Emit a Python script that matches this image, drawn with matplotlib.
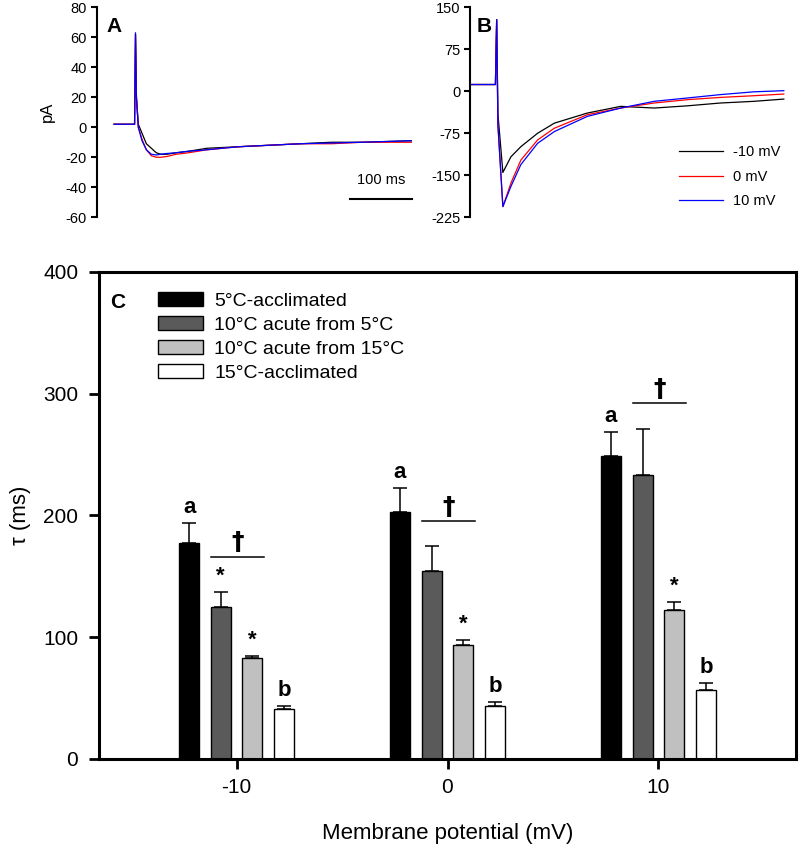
import matplotlib
matplotlib.use('Agg')
import matplotlib.pyplot as plt
import numpy as np

plt.rcParams['font.family'] = ['Liberation Sans', 'DejaVu Sans']
plt.rcParams['axes.unicode_minus'] = False

# panel A: current traces (time in ms from sweep start, current in pA)
tA = [0, 20, 33, 34.5, 36, 39, 45, 52, 60, 68, 75, 85, 100, 120, 150, 200, 250, 300, 350, 400, 479]
a_m10 = [2, 2, 2, 62, 20, 2, -4, -11, -14, -17, -18, -18, -17, -16, -14, -13, -12, -11, -10, -10, -9]
a_0 = [2, 2, 2, 62, 20, 0, -8, -15, -19, -20, -20, -19.5, -18, -17, -15, -13, -12, -11, -11, -10, -10]
a_10 = [2, 2, 2, 63, 20, 0, -9, -15, -18, -18.5, -18, -17.5, -17, -16, -15, -13, -12, -11, -10.5, -10, -9]

# panel B: current traces
tB = [0, 41, 43, 45, 53, 66, 82, 109, 136, 189, 243, 297, 351, 404, 458, 506]
b_m10 = [12, 12, 128, -40, -145, -117, -99, -75, -57, -39, -27, -30, -26, -21, -18, -14]
b_0 = [12, 12, 128, -60, -206, -164, -123, -87, -66, -42, -30, -21, -15, -11, -8, -5]
b_10 = [12, 12, 128, -60, -206, -170, -131, -93, -72, -45, -30, -18, -12, -6, -1, 1]

trace_labels = ['-10 mV', '0 mV', '10 mV']
trace_colors = ['black', 'red', 'blue']

# panel C: time constants
potentials = ['-10', '0', '10']
groups = ['5°C-acclimated', '10°C acute from 5°C', '10°C acute from 15°C', '15°C-acclimated']
acc5 = [177, 203, 249]
acc5_err = [16.6, 19.8, 19.8]
acute5 = [125, 154, 233]
acute5_err = [12.4, 20.8, 37.8]
acute15 = [82.5, 93.5, 122]
acute15_err = [2.2, 4.3, 7.2]
acc15 = [41, 43.5, 57]
acc15_err = [2.2, 3.5, 5.5]
sig_marks = [['a', 'a', 'a'], ['*', '', ''], ['*', '*', '*'], ['b', 'b', 'b']]
dagger_y = [166, 195, 292]

bar_colors = ['black', '#5a5a5a', '#c0c0c0', 'white']

fig = plt.figure(figsize=(8, 8.5), dpi=100)

# ---- panel A
axA = fig.add_axes([0.1209, 0.7444, 0.4041, 0.2471])
for y, c in zip([a_m10, a_0, a_10], trace_colors):
    axA.plot(tA, y, color=c, lw=0.9)
axA.set_xlim(-28, 493)
axA.set_ylim(-60, 80)
axA.set_yticks(range(-60, 81, 20))
axA.set_xticks([])
for s in ['top', 'right', 'bottom']:
    axA.spines[s].set_visible(False)
axA.spines['left'].set_linewidth(1.5)
axA.tick_params(axis='y', direction='out', length=4, width=1.5, labelsize=10.5, pad=3)
axA.set_ylabel('pA', fontsize=12, labelpad=8)
axA.plot([380, 480], [-48, -48], color='black', lw=1.5)
axA.text(430, -40, '100 ms', ha='center', va='bottom', fontsize=10.5)
axA.text(0.029, 0.955, 'A', transform=axA.transAxes, fontsize=15, fontweight='bold', va='top', ha='left')

# ---- panel B
axB = fig.add_axes([0.5875, 0.7444, 0.4, 0.2471])
for y, c, lab in zip([b_m10, b_0, b_10], trace_colors, trace_labels):
    axB.plot(tB, y, color=c, lw=0.9, label=lab)
axB.set_xlim(0, 516)
axB.set_ylim(-225, 150)
axB.set_yticks([-225, -150, -75, 0, 75, 150])
axB.set_xticks([])
for s in ['top', 'right', 'bottom']:
    axB.spines[s].set_visible(False)
axB.spines['left'].set_linewidth(1.5)
axB.tick_params(axis='y', direction='out', length=4, width=1.5, labelsize=10.5, pad=3)
axB.legend(frameon=False, loc='upper left', bbox_to_anchor=(0.653, 0.342), borderpad=0,
           borderaxespad=0, handlelength=3.0, handletextpad=0.7, labelspacing=0.7, fontsize=10.5)
axB.text(0.022, 0.955, 'B', transform=axB.transAxes, fontsize=15, fontweight='bold', va='top', ha='left')

# ---- panel C
axC = fig.add_axes([0.12375, 0.10706, 0.87125, 0.5733])
x = np.arange(len(potentials))
offsets = [-0.225, -0.075, 0.075, 0.225]
width = 0.095
series = [(acc5, acc5_err), (acute5, acute5_err), (acute15, acute15_err), (acc15, acc15_err)]
for i, (vals, errs) in enumerate(series):
    xs = x + offsets[i]
    axC.bar(xs, vals, width=width, color=bar_colors[i], edgecolor='black', linewidth=1.0,
            label=groups[i], zorder=2)
    axC.errorbar(xs, vals, yerr=[np.zeros(len(vals)), errs], fmt='none', ecolor='black',
                 elinewidth=1.1, capsize=5, capthick=1.1, zorder=1)
    for j in range(len(vals)):
        m = sig_marks[i][j]
        if m:
            axC.text(xs[j], vals[j] + errs[j] + 4, m, ha='center', va='bottom',
                     fontsize=16, fontweight='bold')

for j in range(len(potentials)):
    axC.plot([x[j] - 0.12, x[j] + 0.13], [dagger_y[j], dagger_y[j]], color='black', lw=1.1)
    axC.text(x[j] + 0.005, dagger_y[j] + 2, '†', ha='center', va='bottom', fontsize=18,
             fontweight='bold', family=['DejaVu Sans'])

axC.set_xlim(-0.652, 2.652)
axC.set_ylim(0, 400)
axC.set_yticks([0, 100, 200, 300, 400])
axC.set_xticks(x)
axC.set_xticklabels(potentials)
for s in axC.spines.values():
    s.set_linewidth(2.2)
axC.tick_params(axis='both', direction='out', length=7, width=2, labelsize=15)
axC.tick_params(axis='x', pad=7)
axC.tick_params(axis='y', pad=8)
axC.legend(frameon=False, loc='upper left', bbox_to_anchor=(0.0847, 0.958), borderpad=0,
           borderaxespad=0, handlelength=2.32, handleheight=0.72, handletextpad=0.57,
           labelspacing=0.32, fontsize=14)
axC.text(0.016, 0.957, 'C', transform=axC.transAxes, fontsize=15, fontweight='bold', va='top', ha='left')

fig.text(0.026, 1 - 515 / 850, 'τ (ms)', rotation=90, ha='center', va='center', fontsize=16)
fig.text(0.56, 0.02, 'Membrane potential (mV)', ha='center', va='center', fontsize=16)

fig.savefig('out.png', dpi=100)
